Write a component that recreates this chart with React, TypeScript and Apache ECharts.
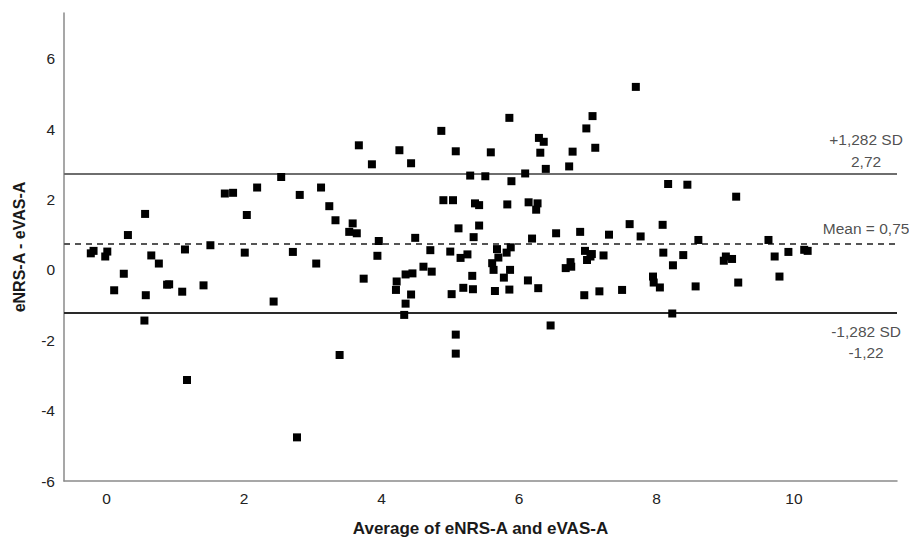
import React, { useEffect, useRef } from "react";
import * as echarts from "echarts";

// Bland-Altman points: [average, difference]
const averages: number[] = [
  2.54, 1.72, 1.84, 2.19, 2.81, 0.56, 2.04, 0.31, 1.51, -0.23,
  -0.19, -0.02, 0.01, 0.65, 0.76, 1.14, 2.01, 2.71, 0.25, 0.11,
  0.57, 0.88, 0.91, 1.10, 1.41, 2.43, 0.55, 1.17, 2.77, 5.86,
  4.87, 3.67, 4.26, 5.08, 5.59, 3.86, 4.43, 5.29, 5.51, 5.89,
  3.12, 3.24, 3.33, 3.58, 3.53, 3.64, 3.96, 4.49, 4.90, 5.04,
  5.12, 5.34, 5.42, 5.36, 5.42, 5.83, 3.94, 4.71, 5.00, 5.15,
  5.25, 5.68, 5.70, 5.82, 5.88, 3.05, 5.61, 5.63, 5.87, 5.78,
  5.65, 5.86, 4.61, 4.73, 5.32, 5.33, 5.19, 5.02, 4.35, 4.45,
  4.22, 4.21, 4.43, 3.74, 4.35, 4.33, 5.08, 5.08, 3.39, 7.70,
  7.07, 6.98, 6.29, 6.36, 6.31, 6.78, 7.11, 6.39, 6.73, 6.09,
  8.17, 8.45, 6.14, 6.27, 6.25, 7.61, 8.09, 6.54, 6.89, 7.31,
  7.77, 6.19, 8.61, 8.10, 8.39, 6.96, 7.06, 7.04, 6.99, 7.23,
  6.75, 6.76, 6.68, 8.24, 6.13, 6.28, 6.95, 7.17, 7.50, 7.95,
  7.96, 8.05, 8.57, 8.23, 6.46, 9.16, 9.63, 9.01, 8.98, 9.10,
  9.72, 9.92, 10.15, 10.20, 9.79, 9.19,
];
const differences: number[] = [
  2.64, 2.17, 2.19, 2.34, 2.13, 1.59, 1.56, 0.99, 0.70, 0.47,
  0.54, 0.38, 0.52, 0.41, 0.18, 0.58, 0.49, 0.51, -0.11, -0.58,
  -0.72, -0.42, -0.41, -0.62, -0.44, -0.90, -1.44, -3.13, -4.76, 4.32,
  3.95, 3.54, 3.40, 3.37, 3.34, 3.00, 3.03, 2.68, 2.66, 2.52,
  2.34, 1.81, 1.41, 1.32, 1.08, 1.04, 0.82, 0.91, 1.98, 1.98,
  1.18, 0.93, 1.26, 1.89, 1.84, 1.86, 0.40, 0.56, 0.52, 0.34,
  0.44, 0.59, 0.35, 0.49, 0.64, 0.18, 0.19, 0.00, 0.00, -0.22,
  -0.60, -0.56, 0.09, -0.05, -0.17, -0.55, -0.51, -0.69, -0.13, -0.10,
  -0.33, -0.57, -0.70, -0.25, -0.96, -1.28, -1.84, -2.38, -2.42, 5.20,
  4.37, 4.02, 3.75, 3.64, 3.33, 3.36, 3.47, 2.87, 2.94, 2.74,
  2.44, 2.42, 1.92, 1.89, 1.71, 1.30, 1.28, 1.04, 1.08, 1.00,
  0.95, 0.89, 0.85, 0.49, 0.42, 0.54, 0.45, 0.38, 0.28, 0.41,
  0.22, 0.09, 0.05, 0.13, -0.30, -0.52, -0.72, -0.61, -0.57, -0.19,
  -0.36, -0.50, -0.47, -1.24, -1.58, 2.08, 0.85, 0.38, 0.26, 0.31,
  0.38, 0.51, 0.57, 0.54, -0.19, -0.36,
];

const upperLimit = 2.72;
const meanDiff = 0.75;
const lowerLimit = -1.22;
const upperLabel = ["+1,282 SD", "2,72"];
const meanLabel = ["Mean = 0,75"];
const lowerLabel = ["-1,282 SD", "-1,22"];

const xTitle = "Average of eNRS-A and eVAS-A";
const yTitle = "eNRS-A - eVAS-A";

const FONT = "Liberation Sans, Arial, sans-serif";

export default function App() {
  const ref = useRef<HTMLDivElement>(null);
  useEffect(() => {
    if (!ref.current) return;
    const chart = echarts.init(ref.current, undefined, { renderer: "svg" });
    const points = averages.map((a, i) => [a, differences[i]]);
    const labelX = 11.05;
    const labelStyle = {
      color: "#222",
      fontFamily: FONT,
      fontSize: 15.5,
      align: "center" as const,
    };
    chart.setOption({
      animation: false,
      backgroundColor: "#fff",
      grid: { left: 64, right: 12, top: 13, bottom: 60, containLabel: false },
      xAxis: {
        type: "value",
        min: -0.62,
        max: 11.5,
        splitNumber: 5,
        name: xTitle,
        nameLocation: "middle",
        nameGap: 39,
        nameTextStyle: { fontFamily: FONT, fontSize: 17, fontWeight: "bold", color: "#1a1a1a" },
        axisLine: { show: true, onZero: false, lineStyle: { color: "#8a8a8a", width: 1.5 } },
        axisTick: { show: false },
        splitLine: { show: false },
        axisLabel: {
          showMinLabel: false,
          showMaxLabel: false,
          margin: 9,
          fontFamily: FONT,
          fontSize: 15.5,
          color: "#222",
        },
      },
      yAxis: {
        type: "value",
        min: -6,
        max: 7.3,
        interval: 2,
        name: yTitle,
        nameLocation: "middle",
        nameGap: 37,
        nameTextStyle: { fontFamily: FONT, fontSize: 16, fontWeight: "bold", color: "#1a1a1a" },
        axisLine: { show: true, onZero: false, lineStyle: { color: "#8a8a8a", width: 1.5 } },
        axisTick: { show: false },
        splitLine: { show: false },
        axisLabel: {
          showMinLabel: true,
          showMaxLabel: false,
          margin: 9,
          fontFamily: FONT,
          fontSize: 15.5,
          color: "#222",
        },
      },
      series: [
        {
          type: "scatter",
          data: points,
          symbol: "rect",
          symbolSize: 8,
          itemStyle: { color: "#000", opacity: 1 },
          z: 5,
          markLine: {
            silent: true,
            symbol: ["none", "none"],
            label: { show: false },
            data: [
              { yAxis: upperLimit, lineStyle: { color: "#6e6e6e", width: 2, type: "solid" } },
              { yAxis: meanDiff, lineStyle: { color: "#555", width: 2, type: [6, 5] } },
              { yAxis: lowerLimit, lineStyle: { color: "#2a2a2a", width: 2, type: "solid" } },
            ],
          },
        },
        {
          type: "scatter",
          symbolSize: 0,
          silent: true,
          data: [
            {
              value: [labelX, upperLimit],
              label: {
                show: true,
                position: "top",
                distance: 2,
                lineHeight: 22,
                formatter: upperLabel.join("\n"),
                ...labelStyle,
              },
            },
            {
              value: [labelX, meanDiff],
              label: {
                show: true,
                position: "top",
                distance: 5,
                lineHeight: 20,
                formatter: meanLabel.join("\n"),
                ...labelStyle,
              },
            },
            {
              value: [labelX, lowerLimit],
              label: {
                show: true,
                position: "bottom",
                distance: 8,
                lineHeight: 21,
                formatter: lowerLabel.join("\n"),
                ...labelStyle,
              },
            },
          ],
        },
      ],
    });
    return () => chart.dispose();
  }, []);
  return (
    <div
      ref={ref}
      style={{ position: "fixed", left: 0, top: 0, width: 909, height: 542, background: "#fff" }}
    />
  );
}
